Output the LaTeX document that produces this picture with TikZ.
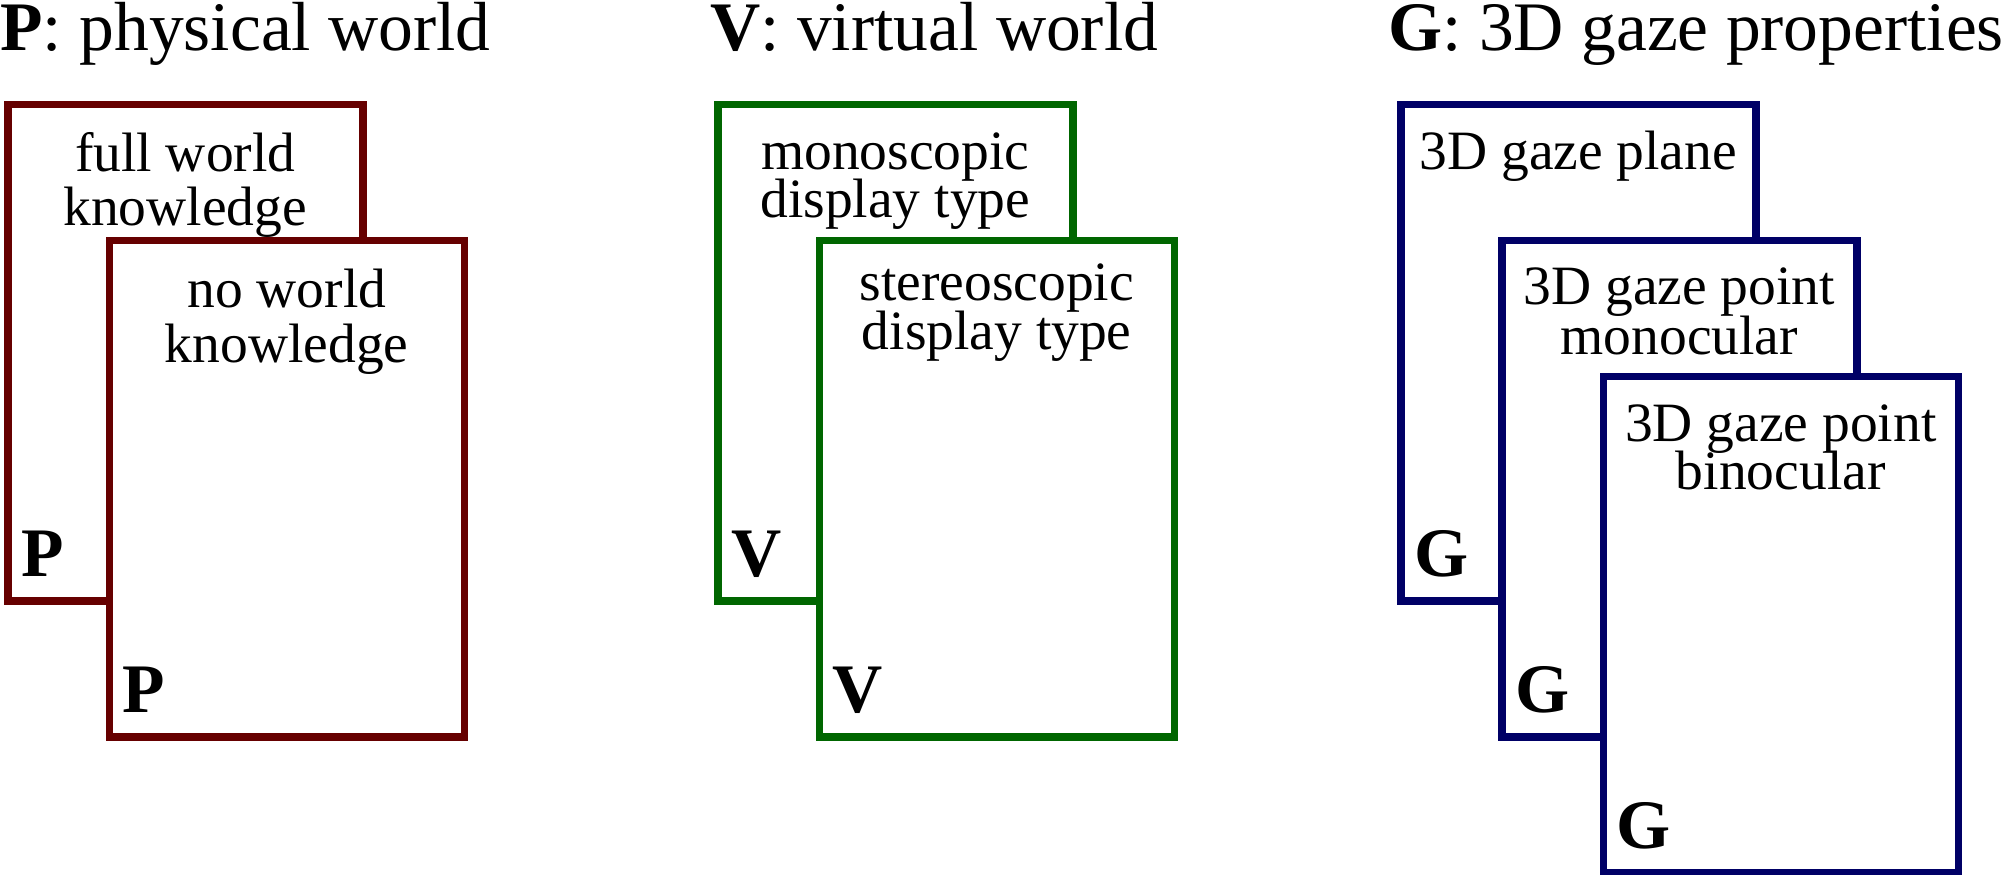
\documentclass[tikz,border=0pt]{standalone}
\usepackage{fontspec}
\setmainfont{Liberation Serif}
\definecolor{pred}{RGB}{102,0,0}
\definecolor{vgreen}{RGB}{0,102,0}
\definecolor{gblue}{RGB}{0,0,102}
\newcommand\twoline[3][25pt]{\vtop{\baselineskip=#1\lineskiplimit=-30pt\halign{\hfil##\hfil\cr#2\cr#3\cr}}}
\tikzset{
  card/.style={draw=#1, line width=3.75pt, fill=white, rectangle, inner sep=0pt,
    minimum width=177.5pt, minimum height=248.25pt, anchor=north west},
  cardtext/.style={inner sep=0pt, anchor=base, font=\fontsize{27.75pt}{25pt}\selectfont},
  lbl/.style={inner sep=0pt, anchor=base west, font=\fontsize{34.75pt}{40pt}\selectfont\bfseries},
  ttl/.style={inner sep=0pt, anchor=base west, font=\fontsize{34.75pt}{40pt}\selectfont},
}
\begin{document}
\begin{tikzpicture}[x=0.5pt, y=-0.5pt]
\useasboundingbox (0,0) rectangle (2004,874);
% titles
\node[ttl] (tp) at (0,50) {\textbf{P}: physical world};
\node[ttl] (tv) at (710,50) {\textbf{V}: virtual world};
\node[ttl] (tg) at (1388,50) {\textbf{G}: 3D gaze properties};
% P cards
\node[card=pred] (p1) at (4,100.5) {};
\node[cardtext] (p1t) at ([yshift=-35.5pt]p1.north) {\twoline[27.15pt]{full world}{knowledge}};
\node[lbl] (p1l) at ([xshift=8.5pt,yshift=14pt]p1.south west) {P};
\node[card=pred] (p2) at (105.5,236.7) {};
\node[cardtext] (p2t) at ([yshift=-35.5pt]p2.north) {\twoline[27.15pt]{no world}{knowledge}};
\node[lbl] (p2l) at ([xshift=8.5pt,yshift=14pt]p2.south west) {P};
% V cards
\node[card=vgreen] (v1) at (714,100.5) {};
\node[cardtext] (v1t) at ([yshift=-34.25pt]v1.north) {\twoline[24pt]{monoscopic}{display type}};
\node[lbl] (v1l) at ([xshift=8.5pt,yshift=14pt]v1.south west) {V};
\node[card=vgreen] (v2) at (815.5,236.7) {};
\node[cardtext] (v2t) at ([yshift=-32.1pt]v2.north) {\twoline[24.15pt]{stereoscopic}{display type}};
\node[lbl] (v2l) at ([xshift=8.5pt,yshift=14pt]v2.south west) {V};
% G cards
\node[card=gblue] (g1) at (1397,100.5) {};
\node[cardtext] (g1t) at ([yshift=-34.5pt]g1.north) {3D gaze plane};
\node[lbl] (g1l) at ([xshift=8.5pt,yshift=14pt]g1.south west) {G};
\node[card=gblue] (g2) at (1498,236.7) {};
\node[cardtext] (g2t) at ([yshift=-33.75pt]g2.north) {\twoline[25pt]{3D gaze point}{monocular}};
\node[lbl] (g2l) at ([xshift=8.5pt,yshift=14pt]g2.south west) {G};
\node[card=gblue] (g3) at (1599.5,372.8) {};
\node[cardtext] (g3t) at ([yshift=-34.35pt]g3.north) {\twoline[24.15pt]{3D gaze point}{binocular}};
\node[lbl] (g3l) at ([xshift=8.5pt,yshift=14pt]g3.south west) {G};
\end{tikzpicture}
\end{document}
